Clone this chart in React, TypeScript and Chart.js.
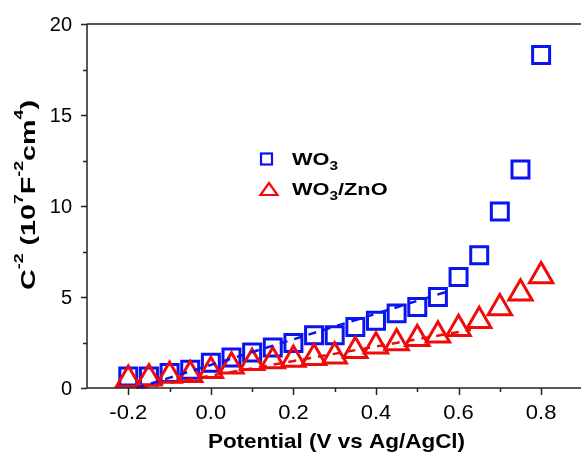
import React, { useEffect, useRef } from "react";
import { Chart, registerables } from "chart.js";

Chart.register(...registerables);

const potential = [-0.2, -0.15, -0.1, -0.05, 0.0, 0.05, 0.1, 0.15, 0.2, 0.25, 0.3, 0.35, 0.4, 0.45, 0.5, 0.55, 0.6, 0.65, 0.7, 0.75, 0.8];
const wo3 = [0.63, 0.63, 0.82, 1.0, 1.39, 1.68, 1.95, 2.22, 2.47, 2.9, 2.9, 3.35, 3.7, 4.1, 4.45, 5.0, 6.1, 7.3, 9.7, 12.0, 18.3];
const wo3zno = [0.47, 0.53, 0.68, 0.73, 0.95, 1.2, 1.39, 1.48, 1.57, 1.66, 1.75, 2.05, 2.3, 2.47, 2.7, 2.9, 3.25, 3.7, 4.4, 5.2, 6.15];
const wo3FitX = [-0.18, 0.58];
const wo3FitY = [0, 5.35];
const znoFitX = [-0.17, 0.63];
const znoFitY = [0, 3.2];

const xTicks = [-0.2, -0.1, 0.0, 0.1, 0.2, 0.3, 0.4, 0.5, 0.6, 0.7, 0.8];
const xLabeled = [-0.2, 0.0, 0.2, 0.4, 0.6, 0.8];
const yTicks = [0, 2.5, 5, 7.5, 10, 12.5, 15, 17.5, 20];
const yLabeled = [0, 5, 10, 15, 20];

const FONT = "'Liberation Sans', Arial, sans-serif";
const BLUE = "#0a14f0";
const RED = "#f00a0a";

const isLabeled = (v: number, arr: number[]) => arr.some((a) => Math.abs(a - v) < 1e-6);

type Part = { t: string; size: number; dy: number };

function measureParts(ctx: CanvasRenderingContext2D, parts: Part[], weight: string) {
  let total = 0;
  for (const p of parts) {
    ctx.font = `${weight} ${p.size}px ${FONT}`;
    total += ctx.measureText(p.t).width;
  }
  return total;
}

function drawParts(
  ctx: CanvasRenderingContext2D,
  parts: Part[],
  x: number,
  y: number,
  align: number,
  sx: number,
  weight = "bold"
) {
  const total = measureParts(ctx, parts, weight) * sx;
  ctx.save();
  ctx.translate(x - total * align, y);
  ctx.scale(sx, 1);
  ctx.textAlign = "left";
  ctx.textBaseline = "alphabetic";
  let cx = 0;
  for (const p of parts) {
    ctx.font = `${weight} ${p.size}px ${FONT}`;
    ctx.fillText(p.t, cx, p.dy);
    cx += ctx.measureText(p.t).width;
  }
  ctx.restore();
}

const decor = {
  id: "decor",
  afterDraw(chart: any) {
    const ctx: CanvasRenderingContext2D = chart.ctx;
    const xs = chart.scales.x;
    const ys = chart.scales.y;
    const a = chart.chartArea;
    ctx.save();
    ctx.strokeStyle = "#222";
    ctx.lineWidth = 1.5;
    ctx.beginPath();
    ctx.moveTo(a.left, a.top);
    ctx.lineTo(a.right, a.top);
    ctx.moveTo(a.left, a.top);
    ctx.lineTo(a.left, a.bottom);
    ctx.lineTo(a.right, a.bottom);
    for (const v of yTicks) {
      const py = Math.round(ys.getPixelForValue(v)) + 0.5;
      const len = isLabeled(v, yLabeled) ? 6 : 4;
      ctx.moveTo(a.left, py);
      ctx.lineTo(a.left - len, py);
    }
    for (const v of xTicks) {
      const px = Math.round(xs.getPixelForValue(v)) + 0.5;
      const len = isLabeled(v, xLabeled) ? 7 : 4;
      ctx.moveTo(px, a.bottom);
      ctx.lineTo(px, a.bottom + len);
    }
    ctx.stroke();

    ctx.fillStyle = "#000";
    for (const v of xLabeled) {
      const px = xs.getPixelForValue(v);
      drawParts(ctx, [{ t: v.toFixed(1), size: 20, dy: 0 }], px, 419, 0.5, 1.1, "normal");
    }
    for (const v of yLabeled) {
      const py = ys.getPixelForValue(v);
      drawParts(ctx, [{ t: String(v), size: 20, dy: 0 }], 72, py + 7, 1, 1, "normal");
    }
    drawParts(ctx, [{ t: "Potential (V vs Ag/AgCl)", size: 21, dy: 0 }], 336.5, 448, 0.5, 1.07);

    const yParts: Part[] = [
      { t: "C", size: 21, dy: 0 },
      { t: "-2", size: 13, dy: -12 },
      { t: " (10", size: 21, dy: 0 },
      { t: "7", size: 13, dy: -12 },
      { t: "F", size: 21, dy: 0 },
      { t: "-2", size: 13, dy: -12 },
      { t: "cm", size: 21, dy: 0 },
      { t: "4", size: 13, dy: -12 },
      { t: ")", size: 21, dy: 0 },
    ];
    const yw = measureParts(ctx, yParts, "bold");
    ctx.save();
    ctx.translate(35, 195);
    ctx.rotate(-Math.PI / 2);
    drawParts(ctx, yParts, 0, 0, 0.5, 190 / yw);
    ctx.restore();

    ctx.lineWidth = 2.2;
    ctx.strokeStyle = BLUE;
    ctx.strokeRect(261, 153.5, 11, 11);
    ctx.strokeStyle = RED;
    ctx.beginPath();
    ctx.moveTo(269, 183);
    ctx.lineTo(277.5, 195);
    ctx.lineTo(260.5, 195);
    ctx.closePath();
    ctx.stroke();
    ctx.fillStyle = "#000";
    drawParts(ctx, [{ t: "WO", size: 17, dy: 0 }, { t: "3", size: 12, dy: 5 }], 292, 165, 0, 1.28);
    drawParts(
      ctx,
      [
        { t: "WO", size: 17, dy: 0 },
        { t: "3", size: 12, dy: 5 },
        { t: "/ZnO", size: 17, dy: 0 },
      ],
      292,
      195,
      0,
      1.28
    );
    ctx.restore();
  },
};

export default function App() {
  const ref = useRef<HTMLCanvasElement | null>(null);
  useEffect(() => {
    if (!ref.current) return;
    const chart = new Chart(ref.current, {
      type: "scatter",
      data: {
        datasets: [
          {
            label: "WO3 fit",
            data: wo3FitX.map((x, i) => ({ x, y: wo3FitY[i] })),
            showLine: true,
            borderColor: BLUE,
            borderWidth: 2.5,
            borderDash: [8, 7],
            pointRadius: 0,
            order: 0,
            clip: false,
          } as any,
          {
            label: "WO3/ZnO fit",
            data: znoFitX.map((x, i) => ({ x, y: znoFitY[i] })),
            showLine: true,
            borderColor: RED,
            borderWidth: 2.5,
            borderDash: [8, 7],
            pointRadius: 0,
            order: 0,
            clip: false,
          } as any,
          {
            label: "WO3/ZnO",
            data: potential.map((x, i) => ({ x, y: wo3zno[i] })),
            pointStyle: "triangle",
            pointRadius: 13.5,
            borderWidth: 3,
            borderColor: RED,
            backgroundColor: "rgba(0,0,0,0)",
            order: 1,
            clip: false,
          } as any,
          {
            label: "WO3",
            data: potential.map((x, i) => ({ x, y: wo3[i] })),
            pointStyle: "rect",
            pointRadius: 12,
            borderWidth: 3,
            borderColor: BLUE,
            backgroundColor: "rgba(0,0,0,0)",
            order: 2,
            clip: false,
          } as any,
        ],
      },
      options: {
        animation: false,
        responsive: false,
        devicePixelRatio: 1,
        layout: { autoPadding: false, padding: { top: 24, right: 0, left: 0, bottom: 0 } },
        plugins: { legend: { display: false }, tooltip: { enabled: false } },
        scales: {
          x: {
            type: "linear",
            min: -0.3,
            max: 0.8966,
            grid: { display: false, drawTicks: false },
            border: { display: false },
            afterFit: (s: any) => {
              s.height = 68;
              s.paddingLeft = 0;
              s.paddingRight = 0;
            },
            afterBuildTicks: (s: any) => {
              s.ticks = xTicks.map((v) => ({ value: v }));
            },
            ticks: { display: false },
          },
          y: {
            type: "linear",
            min: 0,
            max: 20,
            grid: { display: false, drawTicks: false },
            border: { display: false },
            afterFit: (s: any) => {
              s.width = 87;
              s.paddingTop = 0;
              s.paddingBottom = 0;
            },
            afterBuildTicks: (s: any) => {
              s.ticks = yTicks.map((v) => ({ value: v }));
            },
            ticks: { display: false },
          },
        },
      },
      plugins: [decor],
    });
    return () => chart.destroy();
  }, []);
  return (
    <div style={{ position: "absolute", left: 0, top: 0, width: 581, height: 456, background: "#fff" }}>
      <canvas ref={ref} width={581} height={456} style={{ display: "block" }} />
    </div>
  );
}
